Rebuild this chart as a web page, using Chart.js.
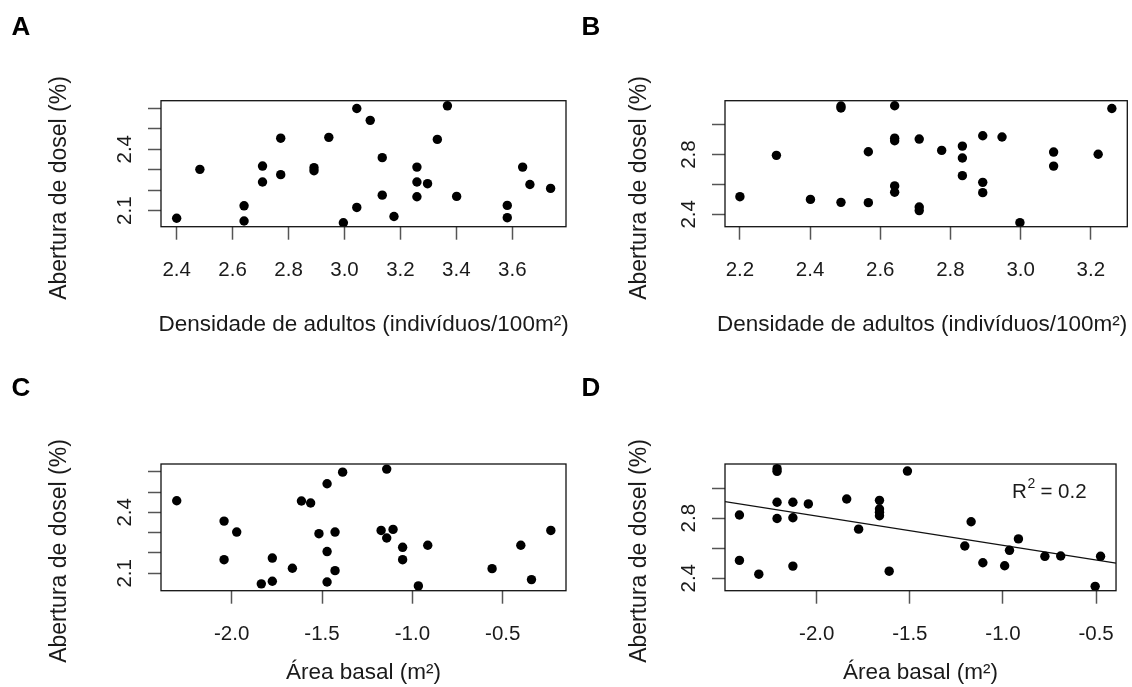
<!DOCTYPE html>
<html>
<head>
<meta charset="utf-8">
<title>Abertura de dosel</title>
<script src="https://cdn.jsdelivr.net/npm/chart.js@4.4.1/dist/chart.umd.min.js"></script>
<style>
  body { margin: 0; background: #fff; }
  #figure { position: relative; width: 1132px; height: 687px; }
  #figure canvas { position: absolute; }
</style>
</head>
<body>
<div id="figure">
  <canvas id="panelA" width="580" height="350" style="left:0;top:0"></canvas>
  <canvas id="panelB" width="552" height="350" style="left:580px;top:0"></canvas>
  <canvas id="panelC" width="580" height="337" style="left:0;top:350px"></canvas>
  <canvas id="panelD" width="552" height="337" style="left:580px;top:350px"></canvas>
</div>
<script>
// A: canopy openness vs adult density
const densityA = [2.400, 2.483, 2.641, 2.641, 2.707, 2.707, 2.772, 2.772, 2.891, 2.891,
                  2.944, 2.996, 3.044, 3.044, 3.092, 3.135, 3.135, 3.177, 3.259, 3.259,
                  3.259, 3.297, 3.332, 3.368, 3.401, 3.582, 3.582, 3.637, 3.663, 3.737];
const canopyA = [2.063, 2.302, 2.124, 2.050, 2.318, 2.240, 2.454, 2.276, 2.310, 2.295,
                 2.458, 2.041, 2.599, 2.116, 2.541, 2.359, 2.176, 2.072, 2.313, 2.240,
                 2.168, 2.232, 2.448, 2.612, 2.170, 2.126, 2.066, 2.313, 2.228, 2.209];

// B: canopy openness vs adult density
const densityB = [2.200, 2.304, 2.401, 2.488, 2.488, 2.488, 2.566, 2.566, 2.641, 2.641,
                  2.641, 2.641, 2.641, 2.711, 2.711, 2.711, 2.775, 2.834, 2.834, 2.834,
                  2.892, 2.892, 2.892, 2.947, 2.998, 3.094, 3.094, 3.221, 3.260];
const canopyB = [2.518, 2.795, 2.500, 3.125, 3.112, 2.480, 2.819, 2.478, 3.127, 2.910,
                 2.893, 2.590, 2.548, 2.904, 2.449, 2.425, 2.828, 2.857, 2.777, 2.659,
                 2.926, 2.614, 2.545, 2.918, 2.344, 2.817, 2.723, 2.802, 3.109];

// C: canopy openness vs basal area
const basalC = [-2.304, -2.042, -2.042, -1.972, -1.836, -1.775, -1.775, -1.664, -1.614, -1.563,
                -1.517, -1.472, -1.472, -1.472, -1.428, -1.428, -1.386, -1.173, -1.142, -1.142,
                -1.107, -1.054, -1.054, -0.967, -0.915, -0.559, -0.400, -0.341, -0.234];
const canopyC = [2.457, 2.357, 2.167, 2.303, 2.048, 2.175, 2.061, 2.125, 2.456, 2.446,
                 2.295, 2.541, 2.207, 2.057, 2.303, 2.113, 2.598, 2.311, 2.613, 2.274,
                 2.316, 2.228, 2.167, 2.038, 2.238, 2.123, 2.238, 2.069, 2.311];

// D: canopy openness vs basal area, with fitted line
const basalD = [-2.415, -2.415, -2.311, -2.213, -2.213, -2.213, -2.213, -2.128, -2.128, -2.128,
                -2.045, -1.839, -1.775, -1.663, -1.663, -1.663, -1.663, -1.611, -1.513, -1.205,
                -1.171, -1.108, -0.991, -0.965, -0.917, -0.775, -0.690, -0.505, -0.476];
const canopyD = [2.821, 2.519, 2.427, 3.130, 3.112, 2.906, 2.798, 2.906, 2.803, 2.481,
                 2.895, 2.928, 2.727, 2.919, 2.861, 2.840, 2.816, 2.447, 3.114, 2.615,
                 2.776, 2.503, 2.483, 2.586, 2.662, 2.546, 2.548, 2.346, 2.546];
const fitLineX = [-2.4925, -0.393];
const fitLineY = [2.910, 2.501];
const fitR2 = 0.2;

// tick positions and labels
const xTicksDensityA = [2.4, 2.6, 2.8, 3.0, 3.2, 3.4, 3.6];
const xTicksDensityB = [2.2, 2.4, 2.6, 2.8, 3.0, 3.2];
const xTicksBasal = [-2.0, -1.5, -1.0, -0.5];
const yTicksLow = [2.1, 2.2, 2.3, 2.4, 2.5, 2.6];
const yLabelsLow = ['2.1', '', '', '2.4', '', ''];
const yTicksHigh = [2.4, 2.6, 2.8, 3.0];
const yLabelsHigh = ['2.4', '', '2.8', ''];

const FONT = "'Liberation Sans', Arial, Helvetica, sans-serif";
const Y_TITLE = 'Abertura de dosel (%)';

const toPoints = (xs, ys) => xs.map((x, i) => ({x: x, y: ys[i]}));

const dots = (xs, ys) => ({
    data: toPoints(xs, ys),
    pointRadius: 4.7,
    pointBackgroundColor: '#000',
    pointBorderWidth: 0
});

// box, rotated y labels, axis titles and panel letter (base R style)
const panelText = (cfg) => ({
    id: 'panelText',
    afterDraw(chart) {
        const ctx = chart.ctx;
        const area = chart.chartArea;
        const yScale = chart.scales.y;
        const xScale = chart.scales.x;
        ctx.save();
        ctx.strokeStyle = '#111';
        ctx.lineWidth = 1.3;
        ctx.strokeRect(area.left, area.top, area.right - area.left, area.bottom - area.top);

        ctx.fillStyle = '#1a1a1a';
        ctx.textAlign = 'center';
        ctx.textBaseline = 'middle';
        ctx.font = '20.5px ' + FONT;
        cfg.yTicks.forEach((v, i) => {
            if (!cfg.yLabels[i]) return;
            ctx.save();
            ctx.translate(area.left - 36, yScale.getPixelForValue(v));
            ctx.rotate(-Math.PI / 2);
            ctx.fillText(cfg.yLabels[i], 0, 0);
            ctx.restore();
        });

        ctx.font = '23px ' + FONT;
        ctx.save();
        ctx.translate(60, cfg.yTitleY);
        ctx.rotate(-Math.PI / 2);
        ctx.fillText(Y_TITLE, 0, 0);
        ctx.restore();
        ctx.font = '22.5px ' + FONT;
        ctx.fillText(cfg.xTitle, (area.left + area.right) / 2 + (cfg.xTitleShift || 0), cfg.xTitleY);

        if (cfg.note) {
            const px = xScale.getPixelForValue(cfg.note.x);
            const py = yScale.getPixelForValue(cfg.note.y);
            const big = '20.5px ' + FONT;
            const small = '14px ' + FONT;
            const rest = ' = ' + fitR2.toFixed(1);
            ctx.font = big;
            const wR = ctx.measureText('R').width;
            const wRest = ctx.measureText(rest).width;
            ctx.font = small;
            const wSup = ctx.measureText('2').width;
            let x0 = px - (wR + wSup + wRest) / 2;
            ctx.textAlign = 'left';
            ctx.font = big;
            ctx.fillText('R', x0, py);
            ctx.font = small;
            ctx.fillText('2', x0 + wR + 0.5, py - 8);
            ctx.font = big;
            ctx.fillText(rest, x0 + wR + wSup, py);
        }

        ctx.font = 'bold 26px ' + FONT;
        ctx.fillStyle = '#000';
        ctx.textAlign = 'center';
        ctx.fillText(cfg.letter, cfg.letterX, cfg.letterY);
        ctx.restore();
    }
});

const drawPanel = (id, cfg) => {
    const canvas = document.getElementById(id);
    new Chart(canvas, {
        type: 'scatter',
        data: { datasets: cfg.datasets },
        options: {
            responsive: false,
            animation: false,
            events: [],
            layout: {
                padding: {
                    left: cfg.box.left - 40,
                    top: cfg.box.top,
                    right: canvas.width - cfg.box.right,
                    bottom: canvas.height - cfg.box.bottom - 60
                }
            },
            plugins: {
                legend: { display: false },
                tooltip: { enabled: false }
            },
            scales: {
                x: {
                    type: 'linear',
                    bounds: 'data',
                    min: cfg.xMin,
                    max: cfg.xMax,
                    afterBuildTicks: (axis) => { axis.ticks = cfg.xTicks.map(v => ({value: v})); },
                    afterFit: (axis) => { axis.height = 60; },
                    border: { display: false },
                    grid: { drawOnChartArea: false, drawTicks: true, tickLength: 13, tickColor: '#555', tickWidth: 1.5 },
                    ticks: {
                        autoSkip: false,
                        maxRotation: 0,
                        padding: 18,
                        color: '#1a1a1a',
                        font: { family: FONT, size: 20.5 },
                        callback: (v) => v.toFixed(1)
                    }
                },
                y: {
                    type: 'linear',
                    bounds: 'data',
                    min: cfg.yMin,
                    max: cfg.yMax,
                    afterBuildTicks: (axis) => { axis.ticks = cfg.yTicks.map(v => ({value: v})); },
                    afterFit: (axis) => { axis.width = 40; },
                    border: { display: false },
                    grid: { drawOnChartArea: false, drawTicks: true, tickLength: 13, tickColor: '#555', tickWidth: 1.5 },
                    ticks: { display: false }
                }
            }
        },
        plugins: [panelText(cfg)]
    });
};

drawPanel('panelA', {
    datasets: [dots(densityA, canopyA)],
    box: { left: 161, top: 100.7, right: 566, bottom: 226.7 },
    xMin: 2.344, xMax: 3.792, yMin: 2.022, yMax: 2.637,
    xTicks: xTicksDensityA, yTicks: yTicksLow, yLabels: yLabelsLow,
    xTitle: 'Densidade de adultos (indivíduos/100m²)',
    yTitleY: 188, xTitleY: 325,
    letter: 'A', letterX: 21, letterY: 28
});

drawPanel('panelB', {
    datasets: [dots(densityB, canopyB)],
    box: { left: 145, top: 100.7, right: 550, bottom: 226.7 },
    xMin: 2.1575, xMax: 3.304, yMin: 2.317, yMax: 3.161,
    xTicks: xTicksDensityB, yTicks: yTicksHigh, yLabels: yLabelsHigh,
    xTitle: 'Densidade de adultos (indivíduos/100m²)',
    xTitleShift: -4,
    yTitleY: 188, xTitleY: 325,
    letter: 'B', letterX: 11, letterY: 28
});

drawPanel('panelC', {
    datasets: [dots(basalC, canopyC)],
    box: { left: 161, top: 114, right: 566, bottom: 240.7 },
    xMin: -2.391, xMax: -0.150, yMin: 2.0144, yMax: 2.638,
    xTicks: xTicksBasal, yTicks: yTicksLow, yLabels: yLabelsLow,
    xTitle: 'Área basal (m²)',
    yTitleY: 201, xTitleY: 323,
    letter: 'C', letterX: 21, letterY: 39
});

drawPanel('panelD', {
    datasets: [
        dots(basalD, canopyD),
        {
            data: toPoints(fitLineX, fitLineY),
            showLine: true,
            borderColor: '#111',
            borderWidth: 1.3,
            pointRadius: 0
        }
    ],
    box: { left: 145, top: 114, right: 550, bottom: 240.7 },
    xMin: -2.4925, xMax: -0.393, yMin: 2.317, yMax: 3.161,
    xTicks: xTicksBasal, yTicks: yTicksHigh, yLabels: yLabelsHigh,
    xTitle: 'Área basal (m²)',
    yTitleY: 201, xTitleY: 323,
    note: { x: -0.751, y: 2.974 },
    letter: 'D', letterX: 11, letterY: 39
});
</script>
</body>
</html>
